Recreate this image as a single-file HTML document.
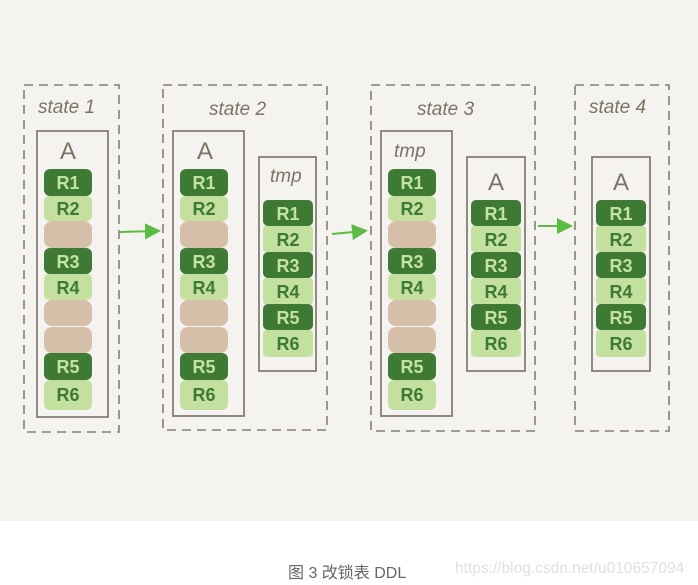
<!DOCTYPE html>
<html><head><meta charset="utf-8"><style>
html,body{margin:0;padding:0;background:#fff;}
body{width:698px;height:585px;overflow:hidden;position:relative;font-family:"Liberation Sans",sans-serif;}
.bg{position:absolute;left:0;top:0;width:698px;height:521px;background:#f4f3ef;}
svg{position:absolute;left:0;top:0;}
.cap{position:absolute;left:288px;top:559px;font-size:16px;color:#666;font-family:"Liberation Sans","Noto Sans CJK SC",sans-serif;}
.wm{position:absolute;left:455px;top:560px;font-size:15.5px;color:#e0e0e0;}
</style></head><body>
<div class="bg"></div>
<svg width="698" height="521" viewBox="0 0 698 521" font-family="Liberation Sans, sans-serif">
<defs>
<marker id="ah" markerWidth="8" markerHeight="8" refX="6" refY="4" orient="auto"><path d="M0,0 L8,4 L0,8 z" fill="#5cbb42"/></marker>
</defs>
<g fill="none" stroke="#857f73" stroke-width="1.6" stroke-dasharray="9,6">
<rect x="24" y="85" width="95" height="347"/>
<rect x="163" y="85" width="164" height="345"/>
<rect x="371" y="85" width="164" height="346"/>
<rect x="575" y="85" width="94" height="346"/>
</g>
<g fill="none" stroke="#857f73" stroke-width="1.8">
<rect x="37" y="131" width="71" height="286"/>
<rect x="173" y="131" width="71" height="285"/>
<rect x="259" y="157" width="57" height="214"/>
<rect x="381" y="131" width="71" height="285"/>
<rect x="467" y="157" width="58" height="214"/>
<rect x="592" y="157" width="58" height="214"/>
</g>
<g fill="#7b7466" font-size="19" font-style="italic">
<text x="38" y="113">state 1</text>
<text x="209" y="115">state 2</text>
<text x="417" y="115">state 3</text>
<text x="589" y="113">state 4</text>
<text x="394" y="157">tmp</text>
<text x="270" y="182">tmp</text>
</g>
<g fill="#7b7466" font-size="24" text-anchor="middle">
<text x="68" y="159">A</text>
<text x="205" y="159">A</text>
<text x="496" y="190">A</text>
<text x="621" y="190">A</text>
</g>
<g stroke="#5cbb42" stroke-width="2" marker-end="url(#ah)">
<line x1="120" y1="232" x2="157" y2="231"/>
<line x1="332" y1="234" x2="364" y2="231"/>
<line x1="538" y1="226" x2="569" y2="226"/>
</g>
<g font-size="18" font-weight="bold" text-anchor="middle">
<rect x="44" y="169" width="48" height="27" rx="6" fill="#3f7a35"/><text x="68" y="189" fill="#c5e3a0">R1</text>
<rect x="44" y="196" width="48" height="25" rx="5" fill="#c3e09f"/><text x="68" y="215" fill="#3e7a33">R2</text>
<rect x="44" y="221" width="48" height="27" rx="8" fill="#d6bfa8"/>
<rect x="44" y="248" width="48" height="26" rx="6" fill="#3f7a35"/><text x="68" y="268" fill="#c5e3a0">R3</text>
<rect x="44" y="274" width="48" height="26" rx="5" fill="#c3e09f"/><text x="68" y="294" fill="#3e7a33">R4</text>
<rect x="44" y="300" width="48" height="26" rx="8" fill="#d6bfa8"/>
<rect x="44" y="327" width="48" height="26" rx="8" fill="#d6bfa8"/>
<rect x="44" y="353" width="48" height="27" rx="6" fill="#3f7a35"/><text x="68" y="373" fill="#c5e3a0">R5</text>
<rect x="44" y="380" width="48" height="30" rx="6" fill="#c3e09f"/><text x="68" y="401" fill="#3e7a33">R6</text>
<rect x="180" y="169" width="48" height="27" rx="6" fill="#3f7a35"/><text x="204" y="189" fill="#c5e3a0">R1</text>
<rect x="180" y="196" width="48" height="25" rx="5" fill="#c3e09f"/><text x="204" y="215" fill="#3e7a33">R2</text>
<rect x="180" y="221" width="48" height="27" rx="8" fill="#d6bfa8"/>
<rect x="180" y="248" width="48" height="26" rx="6" fill="#3f7a35"/><text x="204" y="268" fill="#c5e3a0">R3</text>
<rect x="180" y="274" width="48" height="26" rx="5" fill="#c3e09f"/><text x="204" y="294" fill="#3e7a33">R4</text>
<rect x="180" y="300" width="48" height="26" rx="8" fill="#d6bfa8"/>
<rect x="180" y="327" width="48" height="26" rx="8" fill="#d6bfa8"/>
<rect x="180" y="353" width="48" height="27" rx="6" fill="#3f7a35"/><text x="204" y="373" fill="#c5e3a0">R5</text>
<rect x="180" y="380" width="48" height="30" rx="6" fill="#c3e09f"/><text x="204" y="401" fill="#3e7a33">R6</text>
<rect x="388" y="169" width="48" height="27" rx="6" fill="#3f7a35"/><text x="412" y="189" fill="#c5e3a0">R1</text>
<rect x="388" y="196" width="48" height="25" rx="5" fill="#c3e09f"/><text x="412" y="215" fill="#3e7a33">R2</text>
<rect x="388" y="221" width="48" height="27" rx="8" fill="#d6bfa8"/>
<rect x="388" y="248" width="48" height="26" rx="6" fill="#3f7a35"/><text x="412" y="268" fill="#c5e3a0">R3</text>
<rect x="388" y="274" width="48" height="26" rx="5" fill="#c3e09f"/><text x="412" y="294" fill="#3e7a33">R4</text>
<rect x="388" y="300" width="48" height="26" rx="8" fill="#d6bfa8"/>
<rect x="388" y="327" width="48" height="26" rx="8" fill="#d6bfa8"/>
<rect x="388" y="353" width="48" height="27" rx="6" fill="#3f7a35"/><text x="412" y="373" fill="#c5e3a0">R5</text>
<rect x="388" y="380" width="48" height="30" rx="6" fill="#c3e09f"/><text x="412" y="401" fill="#3e7a33">R6</text>
<rect x="263" y="200" width="50" height="26" rx="5" fill="#3f7a35"/><text x="288" y="220" fill="#c5e3a0">R1</text>
<rect x="263" y="226" width="50" height="26" rx="3" fill="#c3e09f"/><text x="288" y="246" fill="#3e7a33">R2</text>
<rect x="263" y="252" width="50" height="26" rx="5" fill="#3f7a35"/><text x="288" y="272" fill="#c5e3a0">R3</text>
<rect x="263" y="278" width="50" height="26" rx="3" fill="#c3e09f"/><text x="288" y="298" fill="#3e7a33">R4</text>
<rect x="263" y="304" width="50" height="26" rx="5" fill="#3f7a35"/><text x="288" y="324" fill="#c5e3a0">R5</text>
<rect x="263" y="330" width="50" height="27" rx="4" fill="#c3e09f"/><text x="288" y="350" fill="#3e7a33">R6</text>
<rect x="471" y="200" width="50" height="26" rx="5" fill="#3f7a35"/><text x="496" y="220" fill="#c5e3a0">R1</text>
<rect x="471" y="226" width="50" height="26" rx="3" fill="#c3e09f"/><text x="496" y="246" fill="#3e7a33">R2</text>
<rect x="471" y="252" width="50" height="26" rx="5" fill="#3f7a35"/><text x="496" y="272" fill="#c5e3a0">R3</text>
<rect x="471" y="278" width="50" height="26" rx="3" fill="#c3e09f"/><text x="496" y="298" fill="#3e7a33">R4</text>
<rect x="471" y="304" width="50" height="26" rx="5" fill="#3f7a35"/><text x="496" y="324" fill="#c5e3a0">R5</text>
<rect x="471" y="330" width="50" height="27" rx="4" fill="#c3e09f"/><text x="496" y="350" fill="#3e7a33">R6</text>
<rect x="596" y="200" width="50" height="26" rx="5" fill="#3f7a35"/><text x="621" y="220" fill="#c5e3a0">R1</text>
<rect x="596" y="226" width="50" height="26" rx="3" fill="#c3e09f"/><text x="621" y="246" fill="#3e7a33">R2</text>
<rect x="596" y="252" width="50" height="26" rx="5" fill="#3f7a35"/><text x="621" y="272" fill="#c5e3a0">R3</text>
<rect x="596" y="278" width="50" height="26" rx="3" fill="#c3e09f"/><text x="621" y="298" fill="#3e7a33">R4</text>
<rect x="596" y="304" width="50" height="26" rx="5" fill="#3f7a35"/><text x="621" y="324" fill="#c5e3a0">R5</text>
<rect x="596" y="330" width="50" height="27" rx="4" fill="#c3e09f"/><text x="621" y="350" fill="#3e7a33">R6</text>
</g>
</svg>
<div class="cap">图 3 改锁表 DDL</div>
<div class="wm">https://blog.csdn.net/u010657094</div>
</body></html>
